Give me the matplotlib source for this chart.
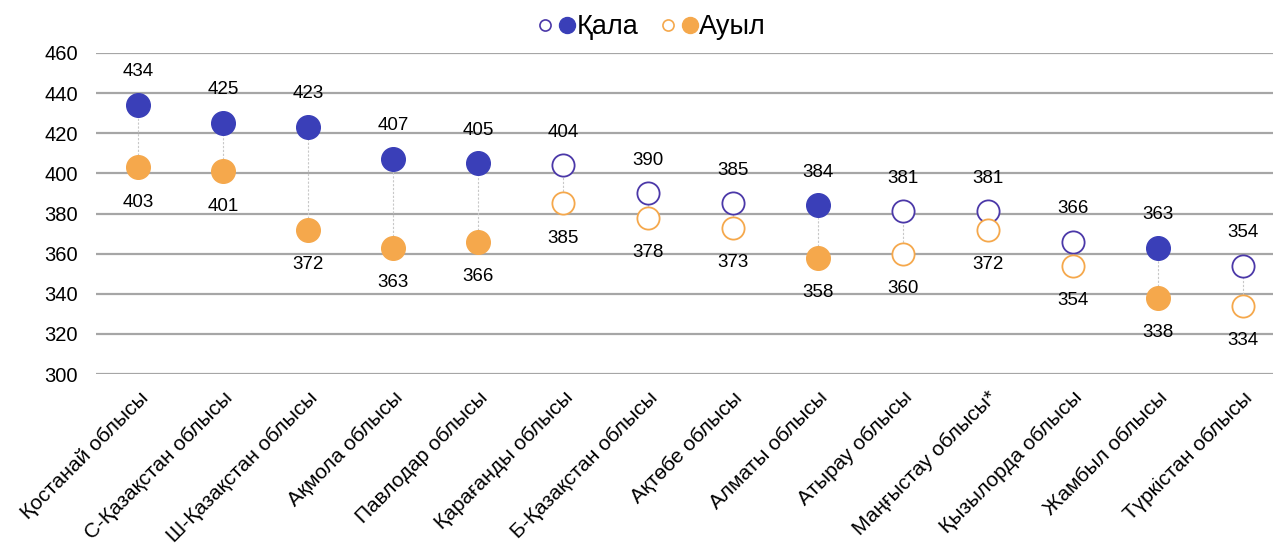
import matplotlib
matplotlib.use("Agg")
import matplotlib.pyplot as plt
from matplotlib.lines import Line2D
from matplotlib.legend_handler import HandlerTuple

plt.rcParams['font.family'] = ['Liberation Sans', 'DejaVu Sans']

categories = ["Қостанай облысы", "С-Қазақстан облысы", "Ш-Қазақстан облысы",
              "Ақмола облысы", "Павлодар облысы", "Қарағанды облысы",
              "Б-Қазақстан облысы", "Ақтөбе облысы", "Алматы облысы",
              "Атырау облысы", "Маңғыстау облысы*", "Қызылорда облысы",
              "Жамбыл облысы", "Түркістан облысы"]
qala = [434, 425, 423, 407, 405, 404, 390, 385, 384, 381, 381, 366, 363, 354]
auyl = [403, 401, 372, 363, 366, 385, 378, 373, 358, 360, 372, 354, 338, 334]
filled = [True, True, True, True, True, False, False, False, True, False, False, False, True, False]
yticks = [300, 320, 340, 360, 380, 400, 420, 440, 460]

BLUE = "#3A3FB8"
PURPLE = "#4B38A8"
ORANGE = "#F5A84C"

fig = plt.figure(figsize=(12.73, 5.45), dpi=100)
ax = fig.add_axes([96/1273, 1 - 374/545, 1189/1273, (374-53)/545])

x = list(range(len(categories)))
ms = 17
for i in x:
    ax.plot([i, i], [auyl[i], qala[i]], color="#C8C8C8", lw=0.8, ls=(0, (2, 1.5)), zorder=1)
    if filled[i]:
        ax.plot(i, qala[i], 'o', ms=ms, color=BLUE, mec=BLUE, zorder=3)
        ax.plot(i, auyl[i], 'o', ms=ms, color=ORANGE, mec=ORANGE, zorder=3)
    else:
        ax.plot(i, qala[i], 'o', ms=ms - 1, mfc='white', mec=PURPLE, mew=1.3, zorder=3)
        ax.plot(i, auyl[i], 'o', ms=ms - 1, mfc='white', mec=ORANGE, mew=1.3, zorder=3)
    ax.annotate(str(qala[i]), (i, qala[i]), xytext=(0, 24), textcoords='offset points',
                ha='center', va='center', fontsize=13.5)
    ax.annotate(str(auyl[i]), (i, auyl[i]), xytext=(0, -25), textcoords='offset points',
                ha='center', va='center', fontsize=13.5)

ax.set_xlim(-0.5, len(categories) - 0.5)
ax.set_ylim(300, 460)
ax.set_yticks(yticks)
ax.set_yticklabels([str(v) for v in yticks], fontsize=14.5)
ax.set_xticks(x)
ax.set_xticklabels(categories, rotation=45, ha='right', rotation_mode='anchor', fontsize=15)
ax.tick_params(length=0)
ax.tick_params(axis='y', pad=13)
ax.tick_params(axis='x', pad=10)
ax.yaxis.grid(True, color="#A6A6A6", lw=1.6)
ax.set_axisbelow(True)
for s in ax.spines.values():
    s.set_visible(False)

h1o = Line2D([], [], marker='o', ls='', ms=8, mfc='white', mec=PURPLE, mew=1.2)
h1f = Line2D([], [], marker='o', ls='', ms=11.5, color=BLUE)
h2o = Line2D([], [], marker='o', ls='', ms=8, mfc='white', mec=ORANGE, mew=1.2)
h2f = Line2D([], [], marker='o', ls='', ms=11.5, color=ORANGE)
fig.legend([(h1o, h1f), (h2o, h2f)], ["Қала", "Ауыл"],
           handler_map={tuple: HandlerTuple(ndivide=None, pad=0.2)},
           loc='center', bbox_to_anchor=(0.512, 1 - 27/545), ncol=2, frameon=False,
           fontsize=19.5, handlelength=1.4, handletextpad=0.05, columnspacing=0.8)

fig.savefig("out.png", dpi=100)
